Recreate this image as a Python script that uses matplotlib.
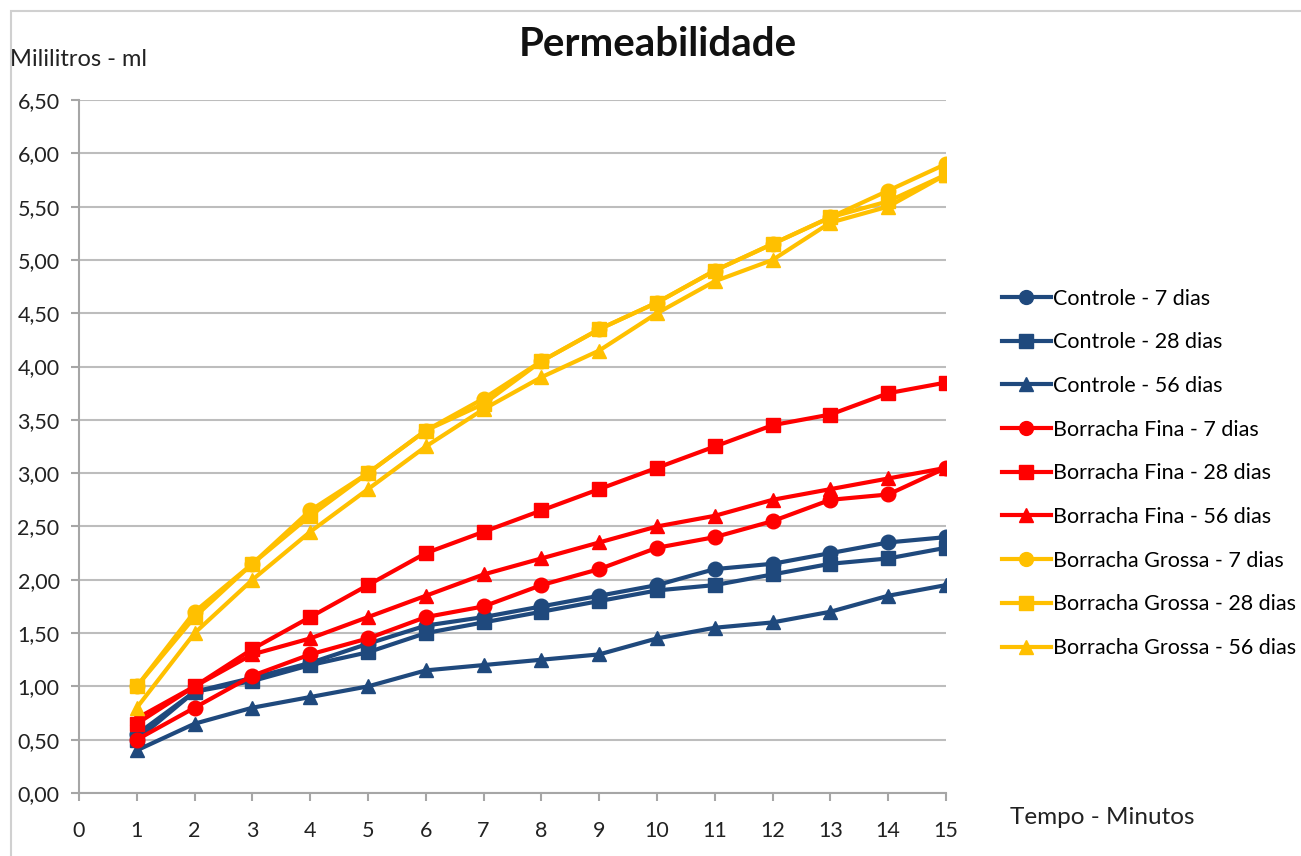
import matplotlib
matplotlib.use("Agg")
import matplotlib.pyplot as plt
from matplotlib.patches import Rectangle
from matplotlib.ticker import FuncFormatter

plt.rcParams['font.family'] = ['Lato', 'DejaVu Sans']

# minutes
tempo = list(range(1, 16))

controle_7 = [0.55, 0.95, 1.08, 1.22, 1.40, 1.57, 1.65, 1.75, 1.85, 1.95, 2.10, 2.15, 2.25, 2.35, 2.40]
controle_28 = [0.50, 0.95, 1.05, 1.20, 1.32, 1.50, 1.60, 1.70, 1.80, 1.90, 1.95, 2.05, 2.15, 2.20, 2.30]
controle_56 = [0.40, 0.65, 0.80, 0.90, 1.00, 1.15, 1.20, 1.25, 1.30, 1.45, 1.55, 1.60, 1.70, 1.85, 1.95]

fina_7 = [0.50, 0.80, 1.10, 1.30, 1.45, 1.65, 1.75, 1.95, 2.10, 2.30, 2.40, 2.55, 2.75, 2.80, 3.05]
fina_28 = [0.65, 1.00, 1.35, 1.65, 1.95, 2.25, 2.45, 2.65, 2.85, 3.05, 3.25, 3.45, 3.55, 3.75, 3.85]
fina_56 = [0.70, 1.00, 1.30, 1.45, 1.65, 1.85, 2.05, 2.20, 2.35, 2.50, 2.60, 2.75, 2.85, 2.95, 3.05]

grossa_7 = [1.00, 1.70, 2.15, 2.65, 3.00, 3.40, 3.70, 4.05, 4.35, 4.60, 4.90, 5.15, 5.40, 5.65, 5.90]
grossa_28 = [1.00, 1.65, 2.15, 2.60, 3.00, 3.40, 3.65, 4.05, 4.35, 4.60, 4.90, 5.15, 5.40, 5.55, 5.80]
grossa_56 = [0.80, 1.50, 2.00, 2.45, 2.85, 3.25, 3.60, 3.90, 4.15, 4.50, 4.80, 5.00, 5.35, 5.50, 5.80]

series = [
    ("Controle - 7 dias", controle_7),
    ("Controle - 28 dias", controle_28),
    ("Controle - 56 dias", controle_56),
    ("Borracha Fina - 7 dias", fina_7),
    ("Borracha Fina - 28 dias", fina_28),
    ("Borracha Fina - 56 dias", fina_56),
    ("Borracha Grossa - 7 dias", grossa_7),
    ("Borracha Grossa - 28 dias", grossa_28),
    ("Borracha Grossa - 56 dias", grossa_56),
]

NAVY = '#1f497d'
RED = '#ff0000'
GOLD = '#ffc000'
colors = [NAVY] * 3 + [RED] * 3 + [GOLD] * 3
markers = ['o', 's', '^'] * 3

fig = plt.figure(figsize=(13.01, 8.56), dpi=100)
ax = fig.add_axes([79 / 1301, 1 - 793 / 856, (946 - 79) / 1301, (793 - 100) / 856])

# light frame around the whole chart
fig.patches.append(Rectangle((11 / 1301, -0.1), 1.2, 1 - 11 / 856 + 0.1,
                             transform=fig.transFigure, fill=False,
                             edgecolor='#d0d0d0', linewidth=1.5))

for (name, vals), c, m in zip(series, colors, markers):
    ax.plot(tempo, vals, color=c, marker=m, markersize=10.5, linewidth=3,
            label=name, zorder=3)

ax.set_xlim(0, 15)
ax.set_ylim(0, 6.5)
ax.set_xticks(range(0, 16))
ax.set_yticks([i * 0.5 for i in range(14)])
ax.yaxis.set_major_formatter(FuncFormatter(lambda v, p: f"{v:.2f}".replace('.', ',')))

ax.grid(axis='y', color='#bdbdbd', linewidth=1.5)
ax.set_axisbelow(True)
for s in ['top', 'right']:
    ax.spines[s].set_visible(False)
for s in ['left', 'bottom']:
    ax.spines[s].set_color('#a6a6a6')
    ax.spines[s].set_linewidth(1.5)
ax.tick_params(axis='both', colors='#a6a6a6', length=6, width=1.5,
               labelsize=15.5, labelcolor='#222222')
ax.tick_params(axis='x', pad=14)
ax.tick_params(axis='y', pad=8)

fig.text(658 / 1301, 1 - 45 / 856, "Permeabilidade", ha='center', va='center',
         fontsize=29, fontweight='bold', color='#111111')
fig.text(10 / 1301, 1 - 60 / 856, "Mililitros - ml", ha='left', va='center',
         fontsize=17, color='#222222')
fig.text(1010 / 1301, 1 - 818 / 856, "Tempo - Minutos", ha='left', va='center',
         fontsize=17.5, color='#222222')

ax.legend(loc='upper left', bbox_to_anchor=(993 / 1301, 1 - 280 / 856),
          bbox_transform=fig.transFigure, frameon=False, fontsize=15.5,
          handlelength=2.3, handletextpad=0.1, labelspacing=1.1,
          borderaxespad=0, markerscale=0.95)

fig.savefig("out.png", dpi=100)
